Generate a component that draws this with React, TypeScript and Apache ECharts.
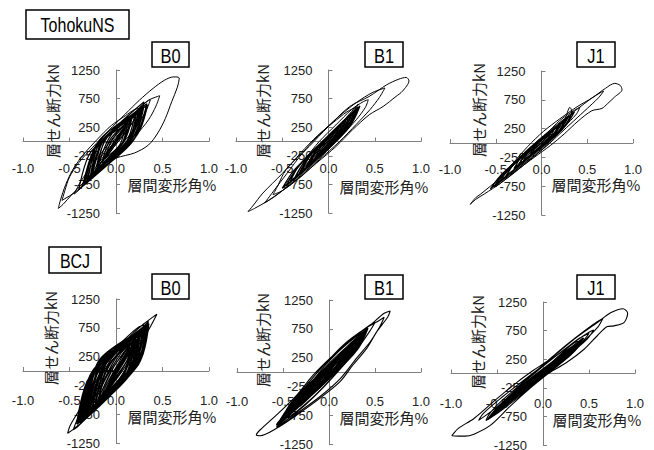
import React, { useEffect, useRef } from "react";
import * as echarts from "echarts";

// ---- tick values / labels ----
const xTickValues = [-1.0, -0.5, 0.0, 0.5, 1.0];
const yTickValues = [-1250, -750, -250, 250, 750, 1250];
const xAxisName = "層間変形角%";
const yAxisName = "層せん断力kN";
const groupNames = ["TohokuNS", "BCJ"];
const panelNames = ["B0", "B1", "J1", "B0", "B1", "J1"];

// ---- hysteresis data: [drift %, shear kN] ----
const tohokuB0 = [[0,0],[0.04,120],[0.08,230],[0.06,150],[0,-20],[-0.05,-160],[-0.09,-250],[-0.06,-150],[0,20],[0.07,200],[0.13,330],[0.1,230],[0.02,30],[-0.08,-190],[-0.14,-340],[-0.1,-220],[-0.02,-20],[0.08,230],[0.18,450],[0.2,500],[0.15,340],[0.05,100],[-0.08,-170],[-0.18,-420],[-0.22,-520],[-0.15,-330],[-0.04,-60],[0.1,280],[0.22,530],[0.28,620],[0.3,640],[0.24,470],[0.12,200],[-0.02,-90],[-0.15,-360],[-0.27,-600],[-0.32,-700],[-0.25,-520],[-0.12,-230],[0.02,90],[0.15,380],[0.27,620],[0.35,720],[0.37,730],[0.33,560],[0.25,330],[0.12,60],[-0.02,-170],[-0.18,-460],[-0.32,-720],[-0.42,-880],[-0.45,-920],[-0.38,-700],[-0.25,-400],[-0.1,-80],[0.05,230],[0.2,500],[0.35,720],[0.45,790],[0.47,800],[0.43,620],[0.35,380],[0.22,120],[0.05,-180],[-0.12,-430],[-0.3,-700],[-0.45,-900],[-0.55,-1000],[-0.58,-1030],[-0.55,-860],[-0.5,-620],[-0.4,-370],[-0.25,-100],[-0.08,190],[0.1,480],[0.25,720],[0.4,930],[0.52,1070],[0.62,1130],[0.68,1110],[0.66,950],[0.6,700],[0.53,400],[0.45,150],[0.35,-60],[0.2,-200],[0,-290],[-0.2,-470],[-0.35,-720],[-0.47,-920],[-0.57,-1100],[-0.62,-1170],[-0.6,-1040],[-0.54,-750],[-0.46,-480],[-0.35,-230],[-0.2,40],[-0.05,280],[0.1,450],[0.2,560],[0.25,580],[0.2,400],[0.1,150],[0,-50],[-0.1,-250],[-0.2,-430],[-0.15,-250],[-0.05,-30],[0.05,170],[0.15,350],[0.1,180],[0,-20],[-0.1,-220],[-0.05,-80],[0.02,50]];
const tohokuB0Core = [[0,0],[0.12,300],[0.06,-50],[-0.15,-380],[-0.06,40],[0.2,440],[0.1,-40],[-0.2,-480],[-0.1,80],[0.25,560],[0.15,20],[-0.25,-560],[-0.12,60],[0.3,620],[0.18,0],[-0.28,-640],[-0.16,40],[0.22,520],[0.14,60],[-0.33,-720],[-0.2,-60],[0.33,660],[0.2,50],[-0.3,-680],[-0.18,20],[0.28,560],[0.12,-60],[-0.36,-780],[-0.22,-100],[0.18,460],[0.08,-20],[-0.22,-500],[-0.1,60],[0.27,590],[0.16,80],[-0.27,-610],[-0.14,20],[0.34,640],[0.22,100],[-0.4,-840],[-0.27,-180],[0.16,400],[0.05,-80],[-0.31,-660],[-0.18,-60],[0.3,690],[0.2,110],[-0.2,-460],[-0.05,120],[0.24,500],[0.12,-20],[-0.26,-580],[-0.14,0],[0.1,280],[0.04,-60],[-0.12,-300],[-0.04,30],[0.29,600],[0.17,40],[-0.34,-740],[-0.2,-40],[0,0]];

const tohokuB1 = [[0,0],[0.05,100],[0.1,200],[0.07,110],[0,-30],[-0.07,-150],[-0.12,-250],[-0.08,-140],[0,30],[0.1,220],[0.18,350],[0.14,230],[0.03,20],[-0.1,-200],[-0.2,-380],[-0.14,-240],[-0.02,-10],[0.12,260],[0.25,470],[0.3,560],[0.24,400],[0.12,150],[-0.05,-150],[-0.2,-400],[-0.32,-580],[-0.25,-420],[-0.1,-130],[0.05,160],[0.2,430],[0.3,620],[0.32,650],[0.28,520],[0.15,250],[0,-40],[-0.18,-360],[-0.35,-620],[-0.45,-790],[-0.49,-810],[-0.4,-600],[-0.25,-300],[-0.1,0],[0.08,290],[0.25,560],[0.38,700],[0.43,730],[0.4,600],[0.3,380],[0.15,120],[-0.02,-170],[-0.2,-450],[-0.4,-730],[-0.58,-960],[-0.69,-1073],[-0.6,-880],[-0.45,-560],[-0.28,-200],[-0.1,120],[0.1,420],[0.3,680],[0.48,860],[0.61,935],[0.55,770],[0.45,560],[0.3,300],[0.12,0],[-0.1,-320],[-0.3,-620],[-0.5,-860],[-0.6,-930],[-0.55,-780],[-0.46,-495],[-0.21,-88],[0,263],[0.23,612],[0.44,788],[0.63,992],[0.76,1090],[0.84,1120],[0.87,1060],[0.8,880],[0.73,788],[0.59,612],[0.44,467],[0.26,205],[0.08,-88],[-0.13,-378],[-0.39,-728],[-0.64,-1020],[-0.8,-1170],[-0.87,-1225],[-0.82,-1130],[-0.71,-903],[-0.5,-560],[-0.3,-200],[-0.12,100],[0.05,330],[0.2,520],[0.3,600],[0.25,430],[0.12,180],[-0.05,-120],[-0.2,-400],[-0.3,-560],[-0.22,-380],[-0.08,-90],[0.08,200],[0.18,350],[0.1,170],[-0.02,-50],[-0.12,-230],[-0.05,-80],[0,0]];
const tohokuB1Core = [[0,0],[0.1,230],[0.05,40],[-0.15,-310],[-0.08,-90],[0.18,370],[0.1,110],[-0.22,-420],[-0.12,-130],[0.25,480],[0.15,160],[-0.3,-560],[-0.18,-210],[0.3,560],[0.2,220],[-0.36,-640],[-0.24,-300],[0.2,420],[0.1,80],[-0.42,-720],[-0.3,-380],[0.34,620],[0.22,240],[-0.3,-540],[-0.16,-160],[0.28,500],[0.14,120],[-0.46,-780],[-0.32,-420],[0.15,330],[0.06,30],[-0.25,-480],[-0.14,-170],[0.32,600],[0.2,200],[-0.38,-680],[-0.25,-330],[0.22,430],[0.12,100],[-0.5,-820],[-0.36,-480],[0.3,580],[0.18,180],[-0.2,-380],[-0.08,-40],[0.12,280],[0.04,0],[-0.33,-600],[-0.2,-240],[0,0]];

const tohokuJ1 = [[0,0],[0.05,80],[0.1,160],[0.06,70],[0,-20],[-0.06,-110],[-0.11,-190],[-0.07,-90],[0,10],[0.1,170],[0.2,320],[0.15,200],[0.05,30],[-0.08,-150],[-0.2,-330],[-0.14,-200],[-0.02,-20],[0.12,210],[0.25,400],[0.31,618],[0.33,560],[0.3,400],[0.2,220],[0.05,-30],[-0.12,-260],[-0.28,-470],[-0.34,-560],[-0.25,-360],[-0.1,-100],[0.05,150],[0.2,390],[0.35,560],[0.42,620],[0.38,500],[0.25,280],[0.1,20],[-0.1,-260],[-0.3,-520],[-0.45,-700],[-0.5,-760],[-0.42,-560],[-0.3,-330],[-0.15,-60],[0.02,200],[0.2,420],[0.4,640],[0.55,780],[0.7,950],[0.8,1035],[0.86,1000],[0.88,924],[0.8,800],[0.72,680],[0.66,600],[0.55,560],[0.4,380],[0.25,160],[0.1,-40],[-0.08,-250],[-0.25,-450],[-0.45,-700],[-0.62,-880],[-0.72,-980],[-0.78,-1066],[-0.72,-950],[-0.67,-893],[-0.45,-605],[-0.3,-380],[-0.2,-200],[-0.05,30],[0.1,230],[0.25,420],[0.4,600],[0.55,780],[0.65,880],[0.68,900],[0.62,780],[0.5,600],[0.35,380],[0.2,160],[0.05,-60],[-0.1,-250],[-0.25,-430],[-0.4,-620],[-0.5,-720],[-0.42,-560],[-0.28,-340],[-0.12,-120],[0.02,80],[0.15,260],[0.25,380],[0.18,240],[0.05,40],[-0.08,-150],[-0.2,-320],[-0.12,-170],[0,0]];
const tohokuJ1Core = [[0,0],[0.1,180],[0.06,50],[-0.12,-200],[-0.07,-60],[0.18,290],[0.1,80],[-0.2,-320],[-0.12,-110],[0.25,380],[0.16,150],[-0.3,-450],[-0.2,-200],[0.32,480],[0.22,220],[-0.38,-560],[-0.26,-280],[0.22,350],[0.12,100],[-0.45,-660],[-0.32,-380],[0.36,540],[0.24,260],[-0.3,-440],[-0.18,-160],[0.28,430],[0.15,140],[-0.52,-760],[-0.38,-460],[0.14,240],[0.06,30],[-0.25,-380],[-0.14,-130],[0.3,470],[0.18,180],[-0.4,-600],[-0.28,-320],[0.2,320],[0.1,90],[-0.56,-800],[-0.42,-520],[0,0]];

const bcjB0 = [[0,0],[0.05,150],[0.1,280],[0.06,150],[-0.02,-80],[-0.08,-220],[-0.04,-80],[0.05,160],[0.12,330],[0.15,400],[0.1,220],[0,-60],[-0.1,-300],[-0.15,-400],[-0.08,-170],[0.02,120],[0.12,380],[0.2,520],[0.15,330],[0.05,60],[-0.1,-300],[-0.2,-520],[-0.14,-300],[-0.05,0],[0.08,320],[0.2,560],[0.26,650],[0.2,420],[0.08,80],[-0.08,-280],[-0.22,-600],[-0.28,-700],[-0.2,-430],[-0.1,-100],[0.05,300],[0.18,560],[0.3,760],[0.24,520],[0.12,180],[-0.05,-220],[-0.2,-560],[-0.32,-800],[-0.36,-880],[-0.28,-600],[-0.16,-250],[-0.02,180],[0.12,500],[0.25,700],[0.35,860],[0.3,650],[0.2,300],[0.05,-100],[-0.12,-450],[-0.3,-780],[-0.42,-980],[-0.46,-1020],[-0.4,-780],[-0.25,-350],[-0.1,80],[0.03,400],[0.18,650],[0.3,820],[0.4,940],[0.44,985],[0.38,800],[0.32,625],[0.18,104],[0.03,-185],[-0.18,-590],[-0.36,-880],[-0.45,-1000],[-0.52,-1082],[-0.49,-937],[-0.35,-560],[-0.22,-185],[-0.08,220],[0.03,451],[0.18,682],[0.25,770],[0.3,800],[0.25,560],[0.15,200],[0,-150],[-0.15,-480],[-0.3,-760],[-0.38,-880],[-0.3,-600],[-0.18,-250],[-0.05,150],[0.1,450],[0.22,650],[0.28,720],[0.22,480],[0.1,120],[-0.05,-250],[-0.2,-580],[-0.3,-700],[-0.22,-430],[-0.1,-80],[0.05,300],[0.15,500],[0.22,600],[0.15,380],[0.05,60],[-0.1,-300],[-0.2,-500],[-0.12,-250],[-0.02,80],[0.08,300],[0.15,420],[0.08,200],[-0.02,-100],[-0.12,-350],[-0.05,-120],[0.05,150],[0.1,250],[0.03,50],[-0.05,-180],[0,0]];
const bcjB0Core = [[0,0],[0.15,420],[0.08,-60],[-0.18,-460],[-0.08,100],[0.22,560],[0.14,-20],[-0.25,-620],[-0.12,120],[0.28,680],[0.2,60],[-0.3,-720],[-0.16,140],[0.32,760],[0.22,80],[-0.35,-820],[-0.2,100],[0.25,640],[0.18,40],[-0.4,-880],[-0.25,0],[0.35,820],[0.25,160],[-0.32,-760],[-0.18,180],[0.3,720],[0.16,-40],[-0.38,-860],[-0.22,40],[0.2,520],[0.1,-100],[-0.28,-680],[-0.14,60],[0.33,780],[0.24,120],[-0.36,-840],[-0.2,60],[0.26,660],[0.14,-60],[-0.42,-920],[-0.28,-100],[0.3,740],[0.2,100],[-0.22,-560],[-0.08,220],[0.18,480],[0.06,-140],[-0.33,-780],[-0.18,20],[0.34,800],[0.24,200],[-0.3,-700],[-0.14,200],[0.24,600],[0.12,-80],[-0.38,-900],[-0.24,-40],[0,0]];

const bcjB1 = [[0,0],[0.06,120],[0.12,230],[0.08,120],[0,-40],[-0.08,-170],[-0.13,-260],[-0.08,-130],[0.02,60],[0.12,250],[0.2,380],[0.15,230],[0.04,20],[-0.1,-230],[-0.2,-400],[-0.14,-240],[-0.02,0],[0.12,260],[0.25,480],[0.3,560],[0.23,370],[0.1,110],[-0.08,-220],[-0.25,-500],[-0.32,-600],[-0.24,-400],[-0.1,-110],[0.06,200],[0.22,480],[0.35,650],[0.4,700],[0.33,520],[0.2,240],[0.03,-100],[-0.15,-400],[-0.32,-640],[-0.45,-800],[-0.38,-600],[-0.22,-250],[-0.05,100],[0.12,380],[0.3,640],[0.45,820],[0.5,860],[0.44,700],[0.32,430],[0.15,100],[-0.05,-250],[-0.25,-560],[-0.45,-820],[-0.57,-960],[-0.52,-800],[-0.35,-440],[-0.17,-90],[0.02,250],[0.2,530],[0.4,760],[0.55,900],[0.6,950],[0.55,780],[0.45,530],[0.3,240],[0.12,-120],[-0.1,-430],[-0.35,-720],[-0.55,-930],[-0.57,-920],[-0.5,-780],[-0.35,-420],[-0.17,-52],[0.05,295],[0.26,585],[0.45,816],[0.6,1019],[0.665,1059],[0.64,960],[0.52,700],[0.41,411],[0.26,122],[0.12,-168],[-0.1,-457],[-0.35,-746],[-0.57,-977],[-0.75,-1106],[-0.79,-1094],[-0.75,-1007],[-0.57,-746],[-0.35,-400],[-0.17,-52],[0.05,280],[0.25,560],[0.38,700],[0.32,500],[0.18,200],[0,-120],[-0.2,-420],[-0.38,-650],[-0.45,-740],[-0.36,-520],[-0.2,-200],[0,150],[0.18,420],[0.3,580],[0.22,380],[0.08,100],[-0.1,-220],[-0.25,-450],[-0.16,-250],[-0.02,30],[0.12,280],[0.22,420],[0.14,230],[0,-30],[-0.12,-250],[-0.05,-100],[0,0]];
const bcjB1Core = [[0,0],[0.12,260],[0.06,20],[-0.15,-300],[-0.06,-40],[0.2,400],[0.12,110],[-0.25,-460],[-0.14,-140],[0.28,520],[0.18,200],[-0.33,-580],[-0.2,-220],[0.35,640],[0.24,280],[-0.4,-680],[-0.28,-320],[0.25,480],[0.14,130],[-0.48,-800],[-0.35,-440],[0.4,720],[0.28,340],[-0.36,-620],[-0.22,-240],[0.32,580],[0.18,180],[-0.52,-860],[-0.4,-520],[0.18,360],[0.08,60],[-0.3,-540],[-0.18,-200],[0.38,680],[0.26,300],[-0.44,-740],[-0.3,-380],[0.28,540],[0.15,150],[-0.55,-920],[-0.42,-580],[0.42,760],[0.3,380],[-0.25,-440],[-0.1,-40],[0.22,440],[0.1,60],[-0.46,-780],[-0.32,-420],[0.36,660],[0.24,300],[-0.38,-660],[-0.24,-260],[0.15,320],[0.06,20],[-0.2,-380],[-0.1,-80],[0,0]];

const bcjJ1 = [[0,0],[0.05,70],[0.1,140],[0.06,60],[0,-20],[-0.06,-90],[-0.11,-160],[-0.06,-60],[0.02,40],[0.12,170],[0.2,280],[0.15,170],[0.04,10],[-0.1,-150],[-0.2,-280],[-0.13,-150],[0,20],[0.15,230],[0.28,400],[0.32,450],[0.25,300],[0.1,80],[-0.1,-180],[-0.28,-400],[-0.35,-480],[-0.25,-300],[-0.08,-60],[0.1,200],[0.25,420],[0.38,560],[0.4,560],[0.33,420],[0.18,200],[0,-50],[-0.2,-300],[-0.4,-550],[-0.5,-650],[-0.42,-480],[-0.25,-220],[-0.05,60],[0.15,320],[0.35,560],[0.5,720],[0.55,760],[0.48,600],[0.33,390],[0.15,140],[-0.05,-130],[-0.28,-430],[-0.5,-700],[-0.62,-820],[-0.58,-700],[-0.45,-480],[-0.25,-200],[-0.05,80],[0.15,360],[0.35,620],[0.55,860],[0.65,960],[0.6,820],[0.48,620],[0.3,330],[0.1,60],[-0.12,-230],[-0.35,-560],[-0.57,-903],[-0.75,-1060],[-0.85,-1095],[-0.99,-1088],[-0.92,-960],[-0.75,-786],[-0.5,-439],[-0.28,-151],[-0.1,60],[0.08,255],[0.34,602],[0.59,891],[0.74,1065],[0.87,1133],[0.92,1054],[0.88,890],[0.77,833],[0.7,820],[0.59,660],[0.45,429],[0.26,196],[0.08,23],[-0.1,-151],[-0.32,-382],[-0.57,-672],[-0.7,-820],[-0.65,-700],[-0.45,-420],[-0.25,-170],[-0.05,80],[0.2,380],[0.4,620],[0.5,700],[0.42,540],[0.25,300],[0.05,20],[-0.15,-230],[-0.35,-480],[-0.42,-560],[-0.3,-380],[-0.12,-130],[0.05,110],[0.2,330],[0.3,450],[0.22,300],[0.08,100],[-0.08,-120],[-0.2,-290],[-0.12,-160],[0,0]];
const bcjJ1Core = [[0,0],[0.1,150],[0.05,40],[-0.12,-170],[-0.06,-50],[0.18,260],[0.1,90],[-0.22,-300],[-0.12,-110],[0.26,360],[0.16,160],[-0.32,-430],[-0.2,-190],[0.34,470],[0.22,230],[-0.42,-560],[-0.28,-280],[0.22,330],[0.12,110],[-0.5,-660],[-0.36,-400],[0.4,560],[0.28,300],[-0.36,-480],[-0.22,-200],[0.3,420],[0.16,160],[-0.56,-740],[-0.42,-480],[0.14,220],[0.06,40],[-0.28,-380],[-0.16,-140],[0.36,500],[0.24,260],[-0.46,-600],[-0.32,-340],[0.2,300],[0.1,90],[-0.6,-800],[-0.46,-540],[0.44,620],[0.32,360],[-0.3,-400],[-0.16,-130],[0.26,380],[0.14,150],[-0.52,-700],[-0.38,-440],[0,0]];

const panelData = [tohokuB0, tohokuB1, tohokuJ1, bcjB0, bcjB1, bcjJ1];
const panelCore = [tohokuB0Core, tohokuB1Core, tohokuJ1Core, bcjB0Core, bcjB1Core, bcjJ1Core];

// ---- layout / styles (pixels) ----
const grids = [
  { left: 23, top: 70, width: 186, height: 143 },
  { left: 236, top: 70, width: 185, height: 143 },
  { left: 450, top: 71, width: 183, height: 144 },
  { left: 23, top: 299, width: 186, height: 144 },
  { left: 237, top: 300, width: 184, height: 144 },
  { left: 451, top: 302, width: 184, height: 143 },
];
const coreWidths = [1.2, 1.2, 1.2, 1.9, 1.9, 1.8];
const mainWidths = [1, 1, 1, 1.1, 1.1, 1.1];
const xLabelMargins = [20, 20, 20, 23, 23, 23];
const panelBoxes = [
  [152, 42, 37, 25], [365, 42, 38, 25], [577, 42, 38, 25],
  [152, 274, 37, 25], [365, 275, 38, 24], [577, 275, 38, 24],
];
const groupBoxes = [[26, 10, 103, 29], [49, 247, 52, 26]];
const yNamePos = [[52, 111], [262, 111], [478, 110], [50, 338], [262, 340], [477, 342]];
const xNamePos = [[172, 184], [384, 186], [596, 184], [172, 416], [384, 417], [597, 419]];

const FONT = '"Liberation Sans", Arial, sans-serif';
const CJK = '"Noto Sans CJK JP", sans-serif';

function buildOption() {
  const graphic: any[] = [];
  groupBoxes.forEach((b, i) => {
    graphic.push({ type: "rect", shape: { x: b[0], y: b[1], width: b[2], height: b[3] }, style: { fill: "#fff", stroke: "#000", lineWidth: 1.5 }, z: 10 });
    graphic.push({ type: "text", x: b[0] + b[2] / 2, y: b[1] + b[3] / 2 + 1, scaleX: 0.8, style: { text: groupNames[i], font: `20px ${FONT}`, fill: "#000", textAlign: "center", textVerticalAlign: "middle" }, z: 11 });
  });
  panelBoxes.forEach((b, i) => {
    graphic.push({ type: "rect", shape: { x: b[0], y: b[1], width: b[2], height: b[3] }, style: { fill: "#fff", stroke: "#000", lineWidth: 1.5 }, z: 10 });
    graphic.push({ type: "text", x: b[0] + b[2] / 2, y: b[1] + b[3] / 2 + 1, scaleX: 0.82, style: { text: panelNames[i], font: `20px ${FONT}`, fill: "#000", textAlign: "center", textVerticalAlign: "middle" }, z: 11 });
  });
  yNamePos.forEach((p) => {
    graphic.push({ type: "text", x: p[0], y: p[1], rotation: Math.PI / 2, style: { text: yAxisName, font: `15px ${CJK}`, fill: "#222", textAlign: "center", textVerticalAlign: "middle" }, z: 12 });
  });
  xNamePos.forEach((p) => {
    graphic.push({ type: "text", x: p[0], y: p[1], style: { text: xAxisName, font: `15px ${CJK}`, fill: "#222", textAlign: "center", textVerticalAlign: "middle" }, z: 12 });
  });

  const axisLine = { onZero: false, lineStyle: { color: "#808080", width: 1 } };
  const lineSeries = (d: number[][], i: number, w: number) => ({
    type: "line",
    xAxisIndex: i,
    yAxisIndex: i,
    data: d,
    showSymbol: false,
    symbol: "none",
    smooth: 0.3,
    lineStyle: { color: "#000", width: w },
    z: 3,
  });
  return {
    animation: false,
    backgroundColor: "#fff",
    grid: grids.map((g) => ({ ...g, containLabel: false, outerBoundsMode: "none" })),
    xAxis: grids.map((g, i) => ({
      type: "value",
      gridIndex: i,
      position: "bottom",
      offset: -g.height / 2,
      min: -1,
      max: 1,
      interval: 0.5,
      axisLine,
      axisTick: { show: true, inside: true, length: 4, lineStyle: { color: "#808080" } },
      axisLabel: { margin: xLabelMargins[i], fontSize: 13, fontFamily: FONT, color: "#222", formatter: (v: number) => v.toFixed(1), customValues: xTickValues, hideOverlap: false },
      splitLine: { show: false },
    })),
    yAxis: grids.map((g, i) => ({
      type: "value",
      gridIndex: i,
      position: "left",
      offset: -g.width / 2,
      min: -1250,
      max: 1250,
      axisLine,
      axisTick: { show: true, inside: true, length: 4, lineStyle: { color: "#808080" }, customValues: yTickValues },
      axisLabel: { margin: 16, fontSize: 13, fontFamily: FONT, color: "#222", customValues: yTickValues, formatter: (v: number) => String(v), hideOverlap: false },
      splitLine: { show: false },
    })),
    series: [
      ...panelCore.map((d, i) => lineSeries(d, i, coreWidths[i])),
      ...panelData.map((d, i) => lineSeries(d, i, mainWidths[i])),
    ],
    graphic,
  };
}

export default function App() {
  const ref = useRef<HTMLDivElement>(null);
  useEffect(() => {
    if (!ref.current) return;
    const chart = echarts.init(ref.current, undefined, { renderer: "svg" });
    chart.setOption(buildOption() as any);
    return () => chart.dispose();
  }, []);
  return <div ref={ref} style={{ position: "fixed", left: 0, top: 0, width: 654, height: 450, background: "#fff" }} />;
}
